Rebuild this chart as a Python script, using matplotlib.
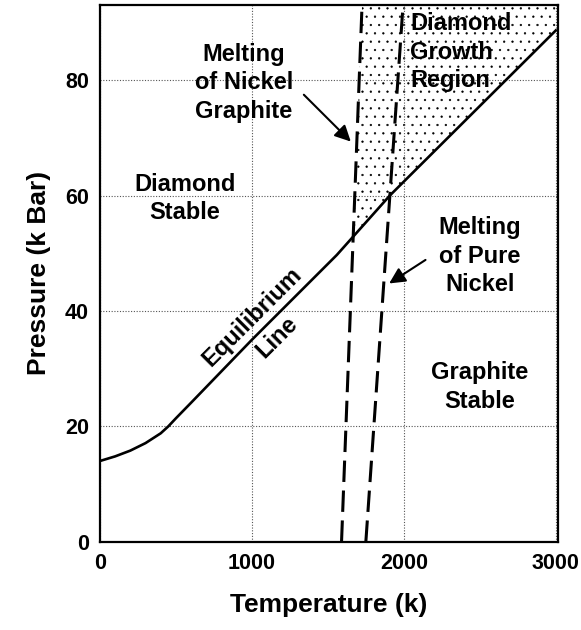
import numpy as np
import matplotlib.pyplot as plt

plt.rcParams['font.family'] = ['Liberation Sans', 'DejaVu Sans']
plt.rcParams['font.weight'] = 'bold'
plt.rcParams['hatch.linewidth'] = 0.4

# graphite/diamond equilibrium line (temperature K, pressure kbar)
eq_temp = [0, 100, 200, 300, 400, 450, 500, 600, 1000, 1559, 1908, 3000]
eq_pres = [14.0, 14.8, 15.8, 17.1, 18.8, 20.0, 21.4, 24.1, 35.0, 49.7, 60.0, 88.6]

# melting lines, bottom and top of the plot
ni_graphite_temp = [1590, 1725]
ni_graphite_pres = [0, 93]
pure_ni_temp = [1750, 1995]
pure_ni_pres = [0, 93]

xticks = [0, 1000, 2000, 3000]
yticks = [0, 20, 40, 60, 80]

fig = plt.figure(figsize=(5.81, 6.30), dpi=100)
ax = fig.add_axes([0.172, 0.140, 0.788, 0.852])

# diamond growth region: right of the Ni-C melting line, above equilibrium
yy = np.linspace(0, 93, 2000)
x_left = np.interp(yy, ni_graphite_pres, ni_graphite_temp)
y_eq = np.interp(x_left, eq_temp, eq_pres)
i0 = np.argmin(np.abs(yy - y_eq))
xs = np.linspace(x_left[i0], eq_temp[-1], 200)
poly_x = list(xs) + [eq_temp[-1], ni_graphite_temp[1]]
poly_y = list(np.interp(xs, eq_temp, eq_pres)) + [93, 93]
ax.fill(poly_x, poly_y, facecolor='none', edgecolor='black', hatch='..',
        linewidth=0)

ax.plot(eq_temp, eq_pres, color='black', lw=1.9)
ax.plot(ni_graphite_temp, ni_graphite_pres, color='black', lw=2.2,
        dashes=(7, 2.8))
ax.plot(pure_ni_temp, pure_ni_pres, color='black', lw=2.2, dashes=(7, 2.8))

ax.set_xlim(0, 3013)
ax.set_ylim(0, 93)
ax.set_xticks(xticks)
ax.set_yticks(yticks)
ax.tick_params(length=0, labelsize=15.5, pad=8)
for lab in ax.get_xticklabels() + ax.get_yticklabels():
    lab.set_fontweight('bold')
ax.grid(True, linestyle=(0, (1, 1.5)), color='#555555', lw=0.8)
for s in ax.spines.values():
    s.set_linewidth(1.6)

ax.set_xlabel('Temperature (k)', fontsize=19, fontweight='bold', labelpad=14)
ax.set_ylabel('Pressure (k Bar)', fontsize=19, fontweight='bold', labelpad=10)

txt = dict(fontsize=17, fontweight='bold', linespacing=1.3)
ax.text(559, 59.5, 'Diamond\nStable', ha='center', va='center', **txt)
ax.text(2500, 26.8, 'Graphite\nStable', ha='center', va='center', **txt)
ax.text(2040, 84.8, 'Diamond\nGrowth\nRegion', ha='left', va='center', **txt)
ax.text(1000, 38.9, 'Equilibrium', ha='center', va='center', rotation=45,
        rotation_mode='anchor', **txt)
ax.text(1164, 35.5, 'Line', ha='center', va='center', rotation=45,
        rotation_mode='anchor', **txt)
ax.text(946, 79.5, 'Melting\nof Nickel\nGraphite', ha='center', va='center',
        **txt)
ax.text(2500, 49.5, 'Melting\nof Pure\nNickel', ha='center', va='center',
        **txt)

arrow = dict(arrowstyle='-|>', color='black', lw=1.5, mutation_scale=24)
ax.annotate('', xy=(1664, 69), xytext=(1329, 77.8), arrowprops=dict(arrow))
ax.annotate('', xy=(1888, 44.5), xytext=(2158, 49.1), arrowprops=dict(arrow))

fig.savefig('out.png', dpi=100)
